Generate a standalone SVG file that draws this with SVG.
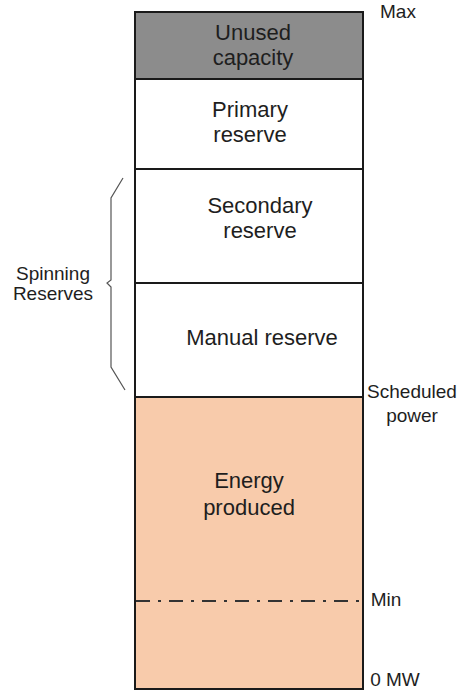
<svg xmlns="http://www.w3.org/2000/svg" width="459" height="692" viewBox="0 0 459 692">
<style>
text{font-family:"Liberation Sans",Arial,sans-serif;fill:#1e1e1e;text-anchor:middle}
.big{font-size:22px}
.side{font-size:19px}
.box{stroke:#1a1a1a;stroke-width:2}
</style>
<rect width="459" height="692" fill="#ffffff"/>
<g id="energy-produced">
<rect class="box" x="135" y="397" width="228" height="292" fill="#f8cbab"/>
<text class="big" x="249" y="488">Energy</text>
<text class="big" x="249" y="515">produced</text>
</g>
<g id="manual-reserve">
<rect class="box" x="135" y="283" width="228" height="114" fill="#ffffff"/>
<text class="big" x="262" y="345">Manual reserve</text>
</g>
<g id="secondary-reserve">
<rect class="box" x="135" y="169" width="228" height="114" fill="#ffffff"/>
<text class="big" x="260" y="213">Secondary</text>
<text class="big" x="260" y="238">reserve</text>
</g>
<g id="primary-reserve">
<rect class="box" x="135" y="79" width="228" height="90" fill="#ffffff"/>
<text class="big" x="250" y="117">Primary</text>
<text class="big" x="250" y="142">reserve</text>
</g>
<g id="unused-capacity">
<rect class="box" x="135" y="12" width="228" height="67" fill="#8c8c8c"/>
<text class="big" x="253" y="40">Unused</text>
<text class="big" x="253" y="65">capacity</text>
</g>
<g id="connectors">
<line x1="136" y1="601" x2="360" y2="601" stroke="#333" stroke-width="2" stroke-dasharray="14 8 3 8"/>
<path d="M123,178 L111,198 L111,280 L107,283 L111,287 L111,367 L125,390" fill="none" stroke="#555" stroke-width="1.2"/>
</g>
<g id="spinning-reserves">
<text class="side" x="53" y="280">Spinning</text>
<text class="side" x="53" y="300">Reserves</text>
</g>
<g id="labels">
<text class="side" x="398" y="18">Max</text>
<text class="side" x="412" y="398">Scheduled</text>
<text class="side" x="412" y="422">power</text>
<text class="side" x="386" y="606">Min</text>
<text class="side" x="395" y="686">0 MW</text>
</g>
</svg>
